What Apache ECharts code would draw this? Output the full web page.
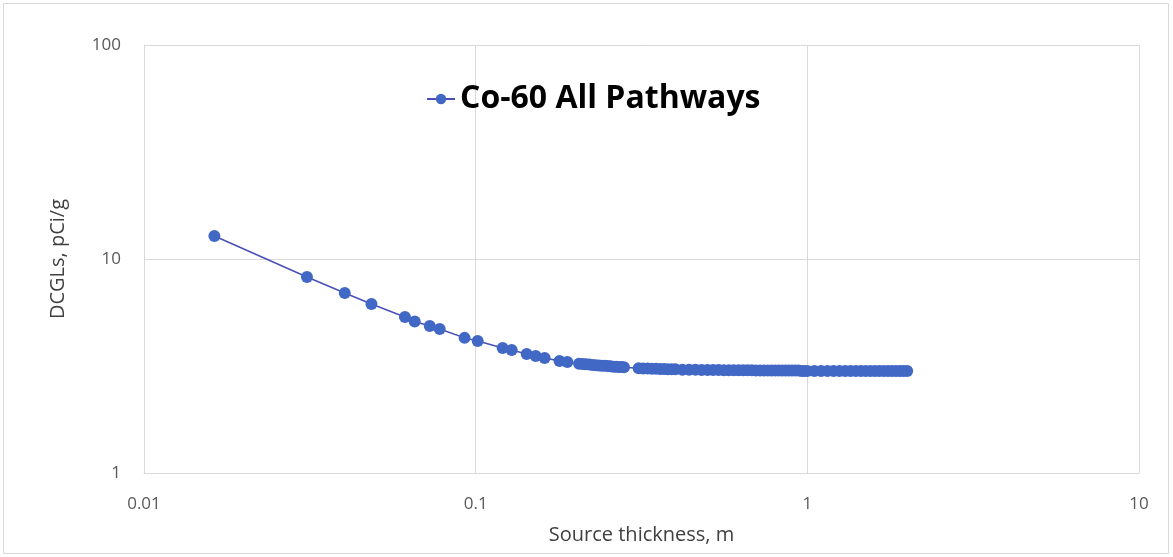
<!DOCTYPE html>
<html>
<head>
<meta charset="utf-8">
<title>Co-60 All Pathways</title>
<script src="https://cdn.jsdelivr.net/npm/echarts@6/dist/echarts.min.js"></script>
<style>
  html, body { margin: 0; padding: 0; background: #ffffff; }
  #chart { width: 1173px; height: 557px; }
</style>
</head>
<body>
<div id="chart"></div>
<script>
// Source thickness (m) and the corresponding DCGL (pCi/g)
const thickness = [
  0.0163, 0.031, 0.0403, 0.0485,
  0.0612, 0.0655, 0.0727, 0.0779, 0.0926, 0.1014,
  0.1206, 0.1284, 0.1425, 0.1517, 0.1614, 0.179, 0.189,
  0.205, 0.21, 0.215, 0.22, 0.225, 0.23, 0.235, 0.24, 0.245, 0.25,
  0.255, 0.26, 0.265, 0.27, 0.275, 0.28,
  0.31, 0.32, 0.33, 0.34, 0.35, 0.36, 0.37, 0.38, 0.39, 0.40,
  0.42, 0.44, 0.46, 0.48, 0.50, 0.52, 0.54, 0.56, 0.58, 0.60,
  0.62, 0.64, 0.66, 0.68, 0.70, 0.72, 0.74, 0.76, 0.78, 0.80,
  0.82, 0.84, 0.86, 0.88, 0.90, 0.92, 0.94, 0.96, 0.98, 1.00,
  1.05, 1.10, 1.15, 1.20, 1.25, 1.30, 1.35, 1.40, 1.45, 1.50,
  1.55, 1.60, 1.65, 1.70, 1.75, 1.80, 1.85, 1.90, 1.95, 2.00
];
const dcgl = [
  12.8, 8.24, 6.94, 6.16,
  5.36, 5.10, 4.86, 4.71, 4.28, 4.14,
  3.84, 3.76, 3.60, 3.52, 3.45, 3.34, 3.30,
  3.24, 3.23, 3.22, 3.21, 3.20, 3.19, 3.18, 3.17, 3.17, 3.16,
  3.15, 3.14, 3.14, 3.13, 3.13, 3.12,
  3.09, 3.08, 3.08, 3.07, 3.07, 3.06, 3.06, 3.05, 3.05, 3.05,
  3.04, 3.04, 3.04, 3.03, 3.03, 3.03, 3.03, 3.02, 3.02, 3.02,
  3.02, 3.02, 3.02, 3.02, 3.01, 3.01, 3.01, 3.01, 3.01, 3.01,
  3.01, 3.01, 3.01, 3.01, 3.01, 3.01, 3.01, 3.00, 3.00, 3.00,
  3.00, 3.00, 3.00, 3.00, 3.00, 3.00, 3.00, 3.00, 3.00, 3.00,
  3.00, 3.00, 3.00, 3.00, 3.00, 3.00, 3.00, 3.00, 3.00, 3.00
];
const xTickLabels = ['0.01', '0.1', '1', '10'];
const yTickLabels = ['1', '10', '100'];

const points = thickness.map((t, i) => [t, dcgl[i]]);
const textFont = '"Open Sans", "Liberation Sans", sans-serif';
const markColor = '#4268c6';

const chart = echarts.init(document.getElementById('chart'), null, { renderer: 'canvas' });
chart.setOption({
  backgroundColor: '#ffffff',
  animation: false,
  graphic: [{
    type: 'rect',
    shape: { x: 3.5, y: 3.5, width: 1165, height: 550 },
    style: { fill: 'none', stroke: '#d9d9d9', lineWidth: 1 },
    silent: true
  }],
  grid: { left: 144, right: 34, top: 45, bottom: 84, containLabel: false },
  legend: {
    left: 421,
    top: 78,
    itemWidth: 28,
    itemHeight: 13,
    itemGap: 4,
    textStyle: { fontSize: 32, fontWeight: 'bold', color: '#000000', fontFamily: textFont },
    data: ['Co-60 All Pathways']
  },
  xAxis: {
    type: 'log',
    logBase: 10,
    min: 0.01,
    max: 10,
    name: 'Source thickness, m',
    nameLocation: 'middle',
    nameGap: 52,
    nameTextStyle: { fontSize: 20, color: '#404040', fontFamily: textFont },
    axisLine: { show: true, lineStyle: { color: '#d9d9d9', width: 1 } },
    axisTick: { show: false },
    splitLine: { show: true, lineStyle: { color: '#d9d9d9', width: 1 } },
    minorTick: { show: false },
    axisLabel: {
      margin: 23,
      fontSize: 17,
      color: '#595959',
      fontFamily: textFont,
      formatter: v => xTickLabels[Math.round(Math.log10(v)) + 2]
    }
  },
  yAxis: {
    type: 'log',
    logBase: 10,
    min: 1,
    max: 100,
    name: 'DCGLs, pCi/g',
    nameLocation: 'middle',
    nameGap: 76,
    nameRotate: 90,
    nameTextStyle: { fontSize: 20, color: '#404040', fontFamily: textFont },
    axisLine: { show: true, lineStyle: { color: '#d9d9d9', width: 1 } },
    axisTick: { show: false },
    splitLine: { show: true, lineStyle: { color: '#d9d9d9', width: 1 } },
    axisLabel: {
      margin: 23,
      fontSize: 17,
      color: '#595959',
      fontFamily: textFont,
      formatter: v => yTickLabels[Math.round(Math.log10(v))]
    }
  },
  series: [{
    name: 'Co-60 All Pathways',
    type: 'line',
    data: points,
    symbol: 'circle',
    symbolSize: 12,
    showAllSymbol: true,
    itemStyle: { color: markColor, borderWidth: 0 },
    lineStyle: { color: '#4a4fb8', width: 1.5 }
  }]
});
</script>
</body>
</html>
